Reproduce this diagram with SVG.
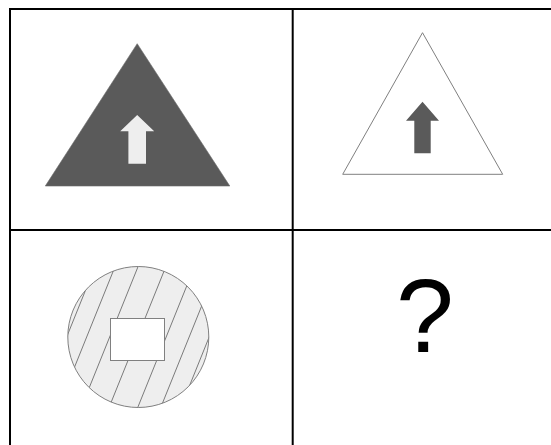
<svg xmlns="http://www.w3.org/2000/svg" width="551" height="445" viewBox="0 0 551 445">
<style>
.grid{fill:none;stroke:#000;stroke-width:2}
.dark{fill:#5a5a5a}
.light{fill:#eeeeee}
.outline{stroke:#808080;stroke-width:1}
.hatch{stroke:#7a7a7a;stroke-width:1;fill:none}
.q{font-family:"Liberation Sans",Arial,sans-serif;font-size:104px;fill:#000}
</style>
<defs>
<clipPath id="circClip"><circle cx="138.3" cy="337" r="70.5"/></clipPath>
</defs>
<rect width="551" height="445" fill="#fff"/>
<g id="grid">
<rect class="grid" x="10" y="9" width="566" height="460"/>
<line class="grid" x1="292.7" y1="9" x2="292.7" y2="450"/>
<line class="grid" x1="10" y1="230" x2="560" y2="230"/>
</g>
<g id="cell1">
<polygon class="dark" points="137.2,43.7 229.8,186 45.3,186" stroke="#6a6a6a" stroke-width="0.6"/>
<polygon class="light" points="137.2,115 154.2,131.3 146,131.3 146,163.7 128.4,163.7 128.4,131.3 120.2,131.3"/>
</g>
<g id="cell2">
<polygon points="422.5,32.7 502.7,174.3 342.7,174.3" fill="#fff" class="outline"/>
<polygon class="dark" points="422.5,101.7 439,120.7 430.7,120.7 430.7,153.3 414.3,153.3 414.3,120.7 406,120.7"/>
</g>
<g id="cell3">
<circle class="light" cx="138.3" cy="337" r="70.5"/>
<g class="hatch" clip-path="url(#circClip)">
<line x1="101.75" y1="250" x2="33.2" y2="420"/>
<line x1="121.75" y1="250" x2="53.2" y2="420"/>
<line x1="144.75" y1="250" x2="76.2" y2="420"/>
<line x1="172.55" y1="250" x2="104" y2="420"/>
<line x1="201.25" y1="250" x2="132.7" y2="420"/>
<line x1="224.25" y1="250" x2="155.7" y2="420"/>
<line x1="244.25" y1="250" x2="175.7" y2="420"/>
</g>
<circle cx="138.3" cy="337" r="70.5" fill="none" class="outline"/>
<rect x="110.5" y="318.5" width="54" height="42" fill="#fff" class="outline"/>
</g>
<g id="cell4">
<text class="q" x="425" y="351.5" text-anchor="middle">?</text>
</g>
</svg>
